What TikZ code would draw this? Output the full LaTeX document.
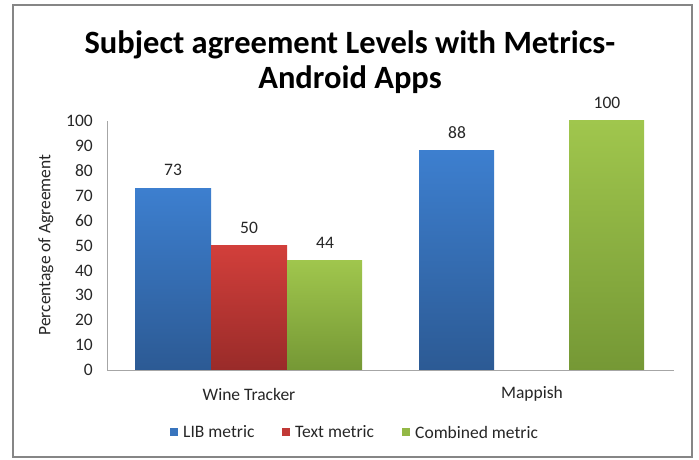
\documentclass[tikz,border=0pt]{standalone}
\usepackage{fontspec}
\setmainfont{Carlito}
\definecolor{frame}{HTML}{868686}
\definecolor{axisgray}{HTML}{A6A6A6}
\definecolor{txt}{HTML}{262626}
\definecolor{blueT}{HTML}{3D7FCF}
\definecolor{blueB}{HTML}{2C5A94}
\definecolor{redT}{HTML}{D23F3B}
\definecolor{redB}{HTML}{992B29}
\definecolor{greenT}{HTML}{A0C64D}
\definecolor{greenB}{HTML}{759835}
\tikzset{
  small/.style={font=\fontsize{17.5}{20}\selectfont, text=txt, inner sep=0pt},
  ticklbl/.style={small, anchor=east},
  vallbl/.style={small},
  catlbl/.style={small},
  leglbl/.style={small, anchor=west},
  bluebar/.style={top color=blueT, bottom color=blueB},
  redbar/.style={top color=redT, bottom color=redB},
  greenbar/.style={top color=greenT, bottom color=greenB},
}
\begin{document}
\begin{tikzpicture}[x=1pt, y=-1pt]
  \useasboundingbox (0,0) rectangle (699,460);
  % chart frame
  \draw[frame, line width=1.5pt] (13,5) rectangle (692,457);

  % title
  \node[font=\fontsize{32.5}{35}\selectfont\bfseries, align=center, text=black] (title) at (350,62)
    {Subject agreement Levels with Metrics-\\Android Apps};

  % bars (value v sits at y = 370 - 2.49 v)
  \shade[bluebar]  (135,370) rectangle (211,{370-2.49*73});
  \shade[redbar]   (211,370) rectangle (287,{370-2.49*50});
  \shade[greenbar] (287,370) rectangle (362,{370-2.49*44});
  \shade[bluebar]  (419,370) rectangle (494,{370-2.49*88});
  \shade[greenbar] (569,370) rectangle (644,{370-2.49*100});

  % axes
  \draw[axisgray, line width=0.8pt] (107,121) -- (107,370) -- (674,370);

  % tick labels
  \foreach \v in {0,10,...,100}
    \node[ticklbl] (t\v) at (93,{370-2.49*\v}) {\v};

  % axis title
  \node[small, rotate=90] (ytitle) at (46,245) {Percentage of Agreement};

  % value labels
  \node[vallbl] (v1) at (173,{352-2.49*73}) {73};
  \node[vallbl] (v2) at (249,{352-2.49*50}) {50};
  \node[vallbl] (v3) at (325,{352-2.49*44}) {44};
  \node[vallbl] (v4) at (457,{352-2.49*88}) {88};
  \node[vallbl] (v5) at (607,{352-2.49*100}) {100};

  % category labels
  \node[catlbl] (c1) at (249,394) {Wine Tracker};
  \node[catlbl] (c2) at (532,394) {Mappish};

  % legend
  \fill[blueT!70!blueB]  (170,428) rectangle (178,436);
  \node[leglbl] (l1) at (183,432) {LIB metric};
  \fill[redT!70!redB]    (282,428) rectangle (290,436);
  \node[leglbl] (l2) at (295,432) {Text metric};
  \fill[greenT!70!greenB] (402,428) rectangle (410,436);
  \node[leglbl] (l3) at (415,432) {Combined metric};
\end{tikzpicture}
\end{document}
